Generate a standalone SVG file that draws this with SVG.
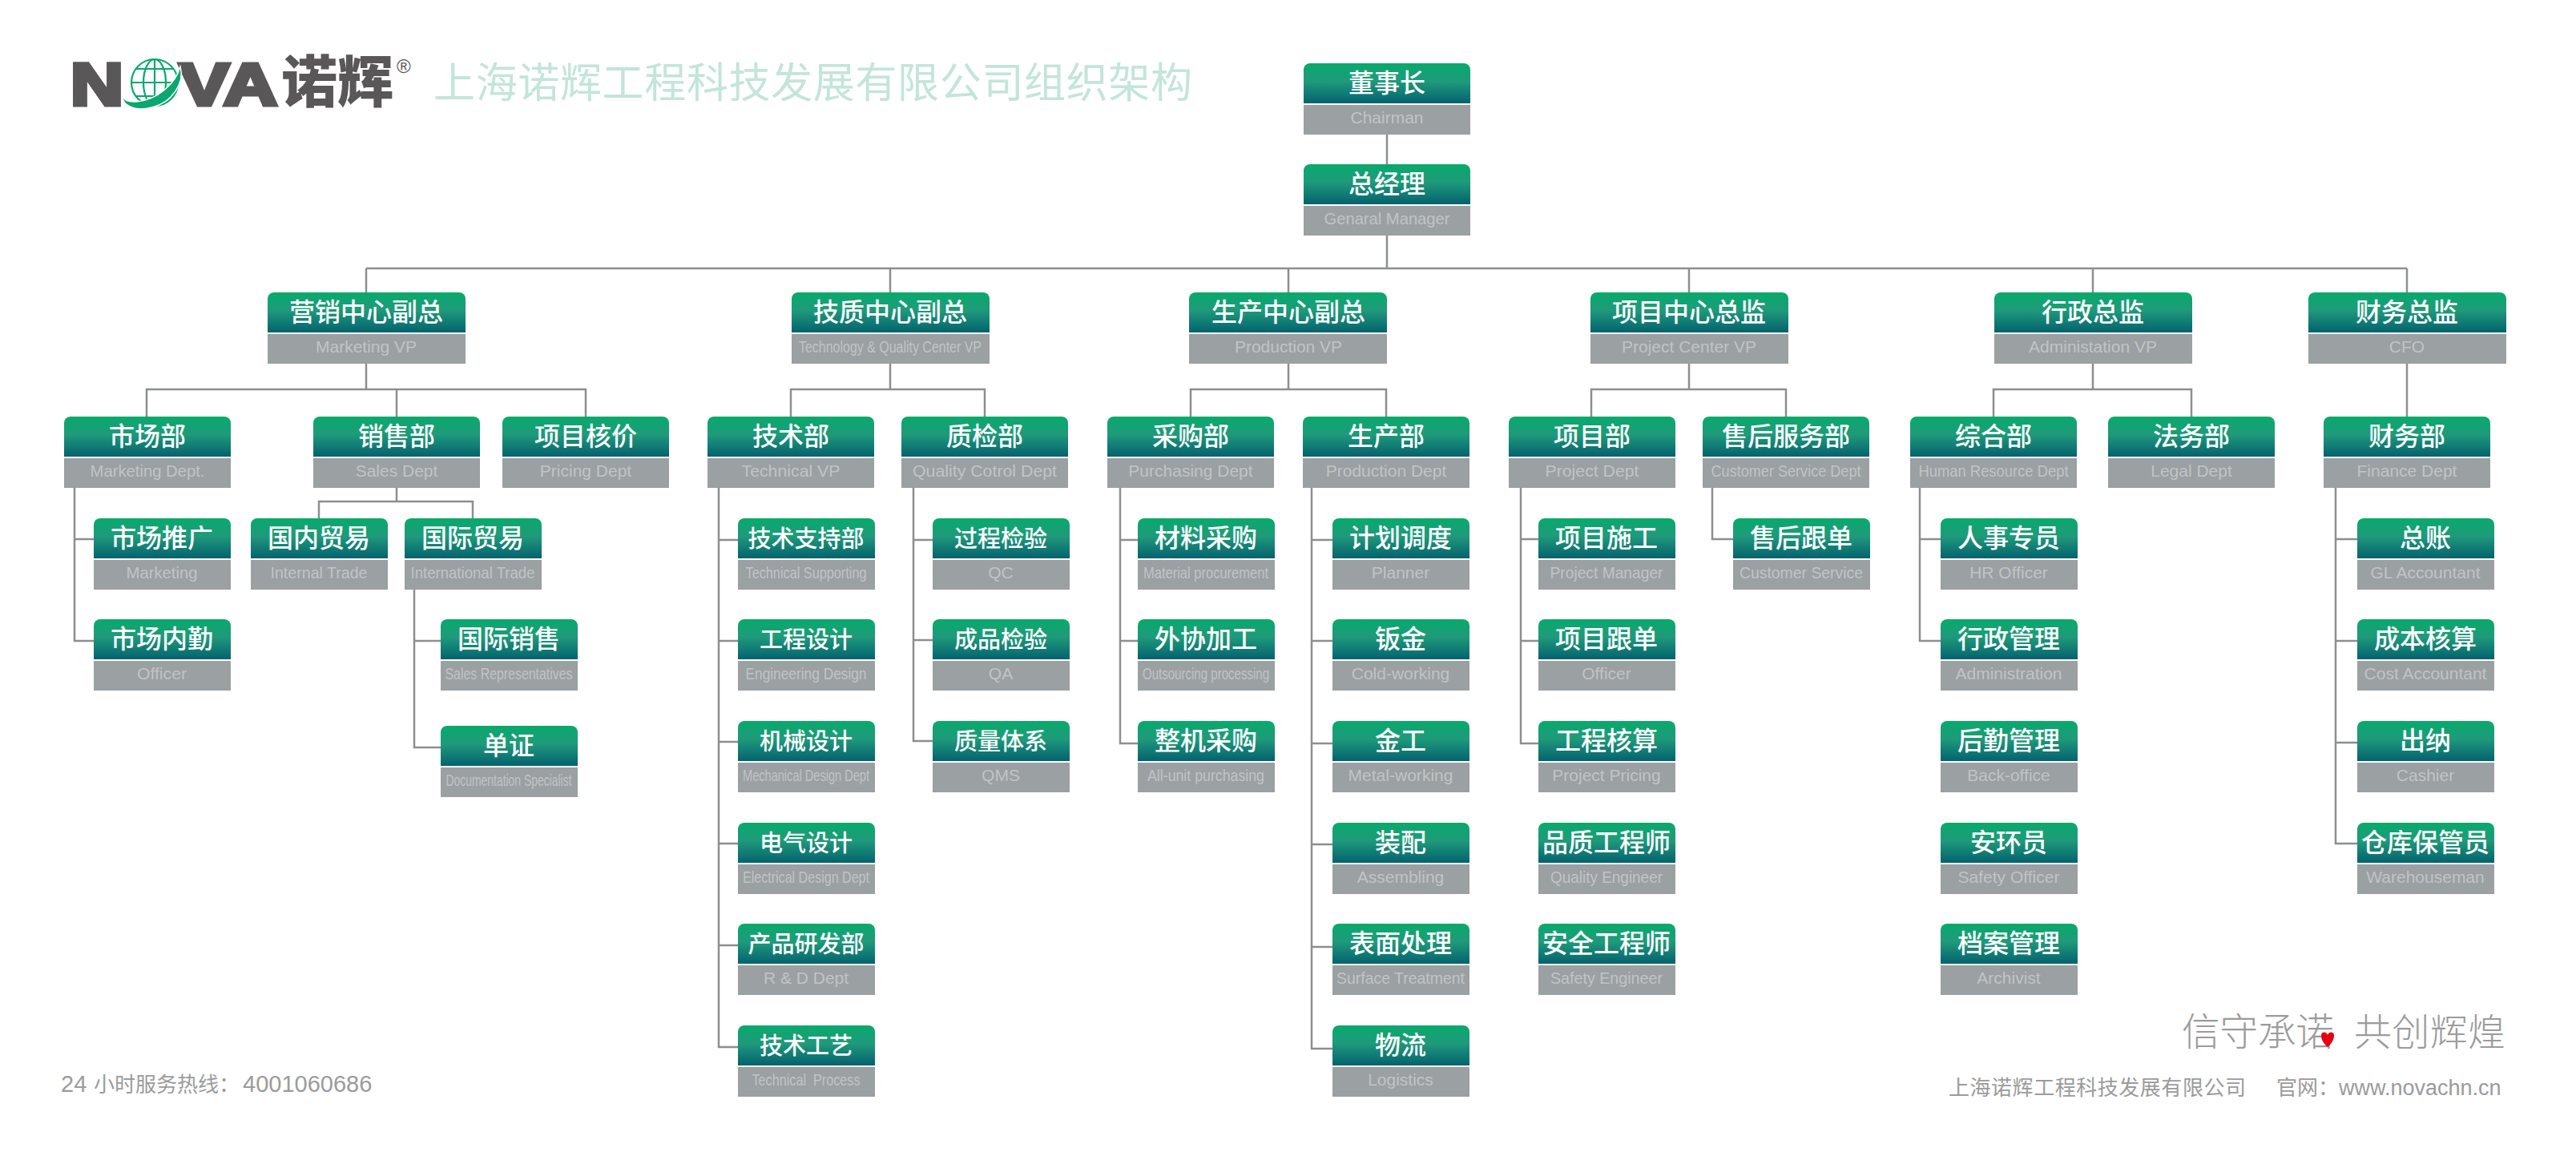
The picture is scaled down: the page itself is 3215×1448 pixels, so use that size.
<svg xmlns="http://www.w3.org/2000/svg" xmlns:xlink="http://www.w3.org/1999/xlink" width="3215" height="1448" viewBox="0 0 3215 1448">
<style>
.c{font-family:"Liberation Sans","Noto Sans CJK SC",sans-serif;font-weight:500;font-size:32px;fill:#fff;text-anchor:middle;transform:translateY(-1.5px)}
.s{font-size:29px}
.e{font-family:"Liberation Sans","Noto Sans CJK SC",sans-serif;font-size:21px;fill:#c0c4c6;text-anchor:middle;white-space:pre;transform:translateY(-1px)}
.f{font-family:"Liberation Sans","Noto Sans CJK SC",sans-serif;font-size:26px;fill:#9b9b9b}
.g{fill:#9ba0a2}
.k{fill:none;stroke:#8c8e90;stroke-width:2.5}
.lg{fill:none;stroke:#0aa86e;stroke-width:2.2}
.nv{font-family:"Liberation Sans",sans-serif;font-weight:700;font-size:74px;fill:#595757;stroke:#595757;stroke-width:5;stroke-linejoin:miter}
</style>
<defs>
<linearGradient id="gr" x1="0" y1="0" x2="0" y2="1"><stop offset="0" stop-color="#08aa6c"/><stop offset="0.45" stop-color="#1f9a7a"/><stop offset="1" stop-color="#04626f"/></linearGradient>
<g id="n208"><path d="M0,50V8a8,8 0 0 1 8,-8H200a8,8 0 0 1 8,8V50Z" fill="url(#gr)"/><rect class="g" y="52" width="208" height="37"/></g>
<g id="n247"><path d="M0,50V8a8,8 0 0 1 8,-8H239a8,8 0 0 1 8,8V50Z" fill="url(#gr)"/><rect class="g" y="52" width="247" height="37"/></g>
<g id="n171"><path d="M0,50V8a8,8 0 0 1 8,-8H163a8,8 0 0 1 8,8V50Z" fill="url(#gr)"/><rect class="g" y="52" width="171" height="37"/></g>
</defs>
<rect width="3215" height="1448" fill="#fff"/>
<g id="logo">
<text class="nv" x="88" y="131" textLength="66" lengthAdjust="spacingAndGlyphs">N</text>
<text class="nv" x="224" y="131" textLength="122" lengthAdjust="spacingAndGlyphs">VA</text>
<circle class="lg" cx="193" cy="103" r="29"/>
<ellipse class="lg" cx="193" cy="103" rx="14" ry="29"/>
<path class="lg" d="M193,74V132M165,103H222M170,86H216M170,120H216"/>
<path d="M162,106C150,120 152,128 170,127C196,125 219,105 225,83C231,104 214,128 190,134C178,137 168,136 162,133C151,128 150,118 162,106Z" fill="#0aa86e" stroke="#fff" stroke-width="1.5"/>
<text x="351" y="128" font-family="Noto Sans CJK SC" font-weight="900" font-size="70" fill="#595757">诺辉</text>
<text x="495" y="91" font-family="Liberation Sans" font-size="24" fill="#595757">®</text>
</g>
<text id="title" x="541" y="122" font-family="Noto Sans CJK SC" font-weight="400" font-size="52" fill="#c3e5da" textLength="947">上海诺辉工程科技发展有限公司组织架构</text>
<g id="connectors" class="k">
<path class="k" d="M1731,168V205M1731,294V335M457,335H3004M457,335V365M1111,335V365M1608,335V365M2108,335V365M2612,335V365M3004,335V365"/>
<path class="k" d="M457,454V486M183,520V486H731V520M495,486V520"/>
<path class="k" d="M495,609V626M398,647V626H590V647"/>
<path class="k" d="M93,609V800H117M93,673H117"/>
<path class="k" d="M517,736V933H550M517,800H550"/>
<path class="k" d="M1111,454V486M987,520V486H1229V520"/>
<path class="k" d="M897,609V1307H921M897,674H921M897,800H921M897,926H921M897,1053H921M897,1180H921"/>
<path class="k" d="M1140,609V925H1164M1140,674H1164M1140,799H1164"/>
<path class="k" d="M1608,454V486M1486,520V486H1730V520"/>
<path class="k" d="M1398,609V928H1420M1398,674H1420M1398,800H1420"/>
<path class="k" d="M1637,609V1309H1663M1637,674H1663M1637,800H1663M1637,928H1663M1637,1054H1663M1637,1182H1663"/>
<path class="k" d="M2108,454V486M1986,520V486H2229V520"/>
<path class="k" d="M1898,609V928H1920M1898,673H1920M1898,800H1920"/>
<path class="k" d="M2137,609V673H2163"/>
<path class="k" d="M2612,454V486M2488,520V486H2735V520"/>
<path class="k" d="M2396,609V800H2422M2396,673H2422"/>
<path class="k" d="M3004,454V520"/>
<path class="k" d="M2915,609V1053H2942M2915,673H2942M2915,800H2942M2915,927H2942"/>
</g>
<g id="n1"><use xlink:href="#n208" x="1627" y="79"/><text class="c" x="1731" y="116">董事长</text><text class="e" x="1731" y="155">Chairman</text></g>
<g id="n2"><use xlink:href="#n208" x="1627" y="205"/><text class="c" x="1731" y="242">总经理</text><text class="e" x="1731" y="281" textLength="157" lengthAdjust="spacingAndGlyphs">Genaral Manager</text></g>
<g id="vp1"><use xlink:href="#n247" x="334" y="365"/><text class="c" x="457" y="402">营销中心副总</text><text class="e" x="457" y="441">Marketing VP</text></g>
<g id="vp2"><use xlink:href="#n247" x="988" y="365"/><text class="c" x="1111" y="402">技质中心副总</text><text class="e" x="1111" y="441" textLength="228" lengthAdjust="spacingAndGlyphs">Technology &amp; Quality Center VP</text></g>
<g id="vp3"><use xlink:href="#n247" x="1484" y="365"/><text class="c" x="1608" y="402">生产中心副总</text><text class="e" x="1608" y="441">Production VP</text></g>
<g id="vp4"><use xlink:href="#n247" x="1985" y="365"/><text class="c" x="2108" y="402">项目中心总监</text><text class="e" x="2108" y="441">Project Center VP</text></g>
<g id="vp5"><use xlink:href="#n247" x="2489" y="365"/><text class="c" x="2612" y="402">行政总监</text><text class="e" x="2612" y="441">Administation VP</text></g>
<g id="vp6"><use xlink:href="#n247" x="2881" y="365"/><text class="c" x="3004" y="402">财务总监</text><text class="e" x="3004" y="441">CFO</text></g>

<g id="d1"><use xlink:href="#n208" x="80" y="520"/><text class="c" x="184" y="557">市场部</text><text class="e" x="184" y="596" textLength="143" lengthAdjust="spacingAndGlyphs">Marketing Dept.</text></g>
<g id="d2"><use xlink:href="#n208" x="391" y="520"/><text class="c" x="495" y="557">销售部</text><text class="e" x="495" y="596">Sales Dept</text></g>
<g id="d3"><use xlink:href="#n208" x="627" y="520"/><text class="c" x="731" y="557">项目核价</text><text class="e" x="731" y="596">Pricing Dept</text></g>
<g id="d4"><use xlink:href="#n208" x="883" y="520"/><text class="c" x="987" y="557">技术部</text><text class="e" x="987" y="596" textLength="123" lengthAdjust="spacingAndGlyphs">Technical VP</text></g>
<g id="d5"><use xlink:href="#n208" x="1125" y="520"/><text class="c" x="1229" y="557">质检部</text><text class="e" x="1229" y="596" textLength="180" lengthAdjust="spacingAndGlyphs">Quality Cotrol Dept</text></g>
<g id="d6"><use xlink:href="#n208" x="1382" y="520"/><text class="c" x="1486" y="557">采购部</text><text class="e" x="1486" y="596">Purchasing Dept</text></g>
<g id="d7"><use xlink:href="#n208" x="1626" y="520"/><text class="c" x="1730" y="557">生产部</text><text class="e" x="1730" y="596">Production Dept</text></g>
<g id="d8"><use xlink:href="#n208" x="1883" y="520"/><text class="c" x="1987" y="557">项目部</text><text class="e" x="1987" y="596" textLength="117" lengthAdjust="spacingAndGlyphs">Project Dept</text></g>
<g id="d9"><use xlink:href="#n208" x="2125" y="520"/><text class="c" x="2229" y="557">售后服务部</text><text class="e" x="2229" y="596" textLength="187" lengthAdjust="spacingAndGlyphs">Customer Service Dept</text></g>
<g id="d10"><use xlink:href="#n208" x="2384" y="520"/><text class="c" x="2488" y="557">综合部</text><text class="e" x="2488" y="596" textLength="187" lengthAdjust="spacingAndGlyphs">Human Resource Dept</text></g>
<g id="d11"><use xlink:href="#n208" x="2631" y="520"/><text class="c" x="2735" y="557">法务部</text><text class="e" x="2735" y="596">Legal Dept</text></g>
<g id="d12"><use xlink:href="#n208" x="2900" y="520"/><text class="c" x="3004" y="557">财务部</text><text class="e" x="3004" y="596">Finance Dept</text></g>

<g id="m1"><use xlink:href="#n171" x="117" y="647"/><text class="c" x="202" y="684">市场推广</text><text class="e" x="202" y="723" textLength="89" lengthAdjust="spacingAndGlyphs">Marketing</text></g>
<g id="m2"><use xlink:href="#n171" x="117" y="773"/><text class="c" x="202" y="810">市场内勤</text><text class="e" x="202" y="849" textLength="62" lengthAdjust="spacingAndGlyphs">Officer</text></g>
<g id="t1"><use xlink:href="#n171" x="313" y="647"/><text class="c" x="398" y="684">国内贸易</text><text class="e" x="398" y="723" textLength="121" lengthAdjust="spacingAndGlyphs">Internal Trade</text></g>
<g id="t2"><use xlink:href="#n171" x="505" y="647"/><text class="c" x="590" y="684">国际贸易</text><text class="e" x="590" y="723" textLength="155" lengthAdjust="spacingAndGlyphs">International Trade</text></g>
<g id="t3"><use xlink:href="#n171" x="550" y="773"/><text class="c" x="635" y="810">国际销售</text><text class="e" x="635" y="849" textLength="159" lengthAdjust="spacingAndGlyphs">Sales Representatives</text></g>
<g id="t4"><use xlink:href="#n171" x="550" y="906"/><text class="c" x="635" y="943">单证</text><text class="e" x="635" y="982" textLength="157" lengthAdjust="spacingAndGlyphs">Documentation Specialist</text></g>

<g id="a1"><use xlink:href="#n171" x="921" y="647"/><text class="c s" x="1006" y="684">技术支持部</text><text class="e" x="1006" y="723" textLength="151" lengthAdjust="spacingAndGlyphs">Technical Supporting</text></g>
<g id="a2"><use xlink:href="#n171" x="921" y="773"/><text class="c s" x="1006" y="810">工程设计</text><text class="e" x="1006" y="849" textLength="151" lengthAdjust="spacingAndGlyphs">Engineering Design</text></g>
<g id="a3"><use xlink:href="#n171" x="921" y="900"/><text class="c s" x="1006" y="937">机械设计</text><text class="e" x="1006" y="976" textLength="158" lengthAdjust="spacingAndGlyphs">Mechanical Design Dept</text></g>
<g id="a4"><use xlink:href="#n171" x="921" y="1027"/><text class="c s" x="1006" y="1064">电气设计</text><text class="e" x="1006" y="1103" textLength="158" lengthAdjust="spacingAndGlyphs">Electrical Design Dept</text></g>
<g id="a5"><use xlink:href="#n171" x="921" y="1153"/><text class="c s" x="1006" y="1190">产品研发部</text><text class="e" x="1006" y="1229">R &amp; D Dept</text></g>
<g id="a6"><use xlink:href="#n171" x="921" y="1280"/><text class="c s" x="1006" y="1317">技术工艺</text><text class="e" x="1006" y="1356" textLength="135" lengthAdjust="spacingAndGlyphs">Technical  Process</text></g>

<g id="q1"><use xlink:href="#n171" x="1164" y="647"/><text class="c s" x="1249" y="684">过程检验</text><text class="e" x="1249" y="723">QC</text></g>
<g id="q2"><use xlink:href="#n171" x="1164" y="773"/><text class="c s" x="1249" y="810">成品检验</text><text class="e" x="1249" y="849">QA</text></g>
<g id="q3"><use xlink:href="#n171" x="1164" y="900"/><text class="c s" x="1249" y="937">质量体系</text><text class="e" x="1249" y="976">QMS</text></g>

<g id="b1"><use xlink:href="#n171" x="1420" y="647"/><text class="c" x="1505" y="684">材料采购</text><text class="e" x="1505" y="723" textLength="156" lengthAdjust="spacingAndGlyphs">Material procurement</text></g>
<g id="b2"><use xlink:href="#n171" x="1420" y="773"/><text class="c" x="1505" y="810">外协加工</text><text class="e" x="1505" y="849" textLength="158" lengthAdjust="spacingAndGlyphs">Outsourcing processing</text></g>
<g id="b3"><use xlink:href="#n171" x="1420" y="900"/><text class="c" x="1505" y="937">整机采购</text><text class="e" x="1505" y="976" textLength="146" lengthAdjust="spacingAndGlyphs">All-unit purchasing</text></g>

<g id="p1"><use xlink:href="#n171" x="1663" y="647"/><text class="c" x="1748" y="684">计划调度</text><text class="e" x="1748" y="723">Planner</text></g>
<g id="p2"><use xlink:href="#n171" x="1663" y="773"/><text class="c" x="1748" y="810">钣金</text><text class="e" x="1748" y="849">Cold-working</text></g>
<g id="p3"><use xlink:href="#n171" x="1663" y="900"/><text class="c" x="1748" y="937">金工</text><text class="e" x="1748" y="976" textLength="131" lengthAdjust="spacingAndGlyphs">Metal-working</text></g>
<g id="p4"><use xlink:href="#n171" x="1663" y="1027"/><text class="c" x="1748" y="1064">装配</text><text class="e" x="1748" y="1103">Assembling</text></g>
<g id="p5"><use xlink:href="#n171" x="1663" y="1153"/><text class="c" x="1748" y="1190">表面处理</text><text class="e" x="1748" y="1229" textLength="160" lengthAdjust="spacingAndGlyphs">Surface Treatment</text></g>
<g id="p6"><use xlink:href="#n171" x="1663" y="1280"/><text class="c" x="1748" y="1317">物流</text><text class="e" x="1748" y="1356">Logistics</text></g>

<g id="j1"><use xlink:href="#n171" x="1920" y="647"/><text class="c" x="2005" y="684">项目施工</text><text class="e" x="2005" y="723" textLength="141" lengthAdjust="spacingAndGlyphs">Project Manager</text></g>
<g id="j2"><use xlink:href="#n171" x="1920" y="773"/><text class="c" x="2005" y="810">项目跟单</text><text class="e" x="2005" y="849">Officer</text></g>
<g id="j3"><use xlink:href="#n171" x="1920" y="900"/><text class="c" x="2005" y="937">工程核算</text><text class="e" x="2005" y="976">Project Pricing</text></g>
<g id="j4"><use xlink:href="#n171" x="1920" y="1027"/><text class="c" x="2005" y="1064">品质工程师</text><text class="e" x="2005" y="1103" textLength="140" lengthAdjust="spacingAndGlyphs">Quality Engineer</text></g>
<g id="j5"><use xlink:href="#n171" x="1920" y="1153"/><text class="c" x="2005" y="1190">安全工程师</text><text class="e" x="2005" y="1229" textLength="140" lengthAdjust="spacingAndGlyphs">Safety Engineer</text></g>
<g id="h1"><use xlink:href="#n171" x="2163" y="647"/><text class="c" x="2248" y="684">售后跟单</text><text class="e" x="2248" y="723" textLength="154" lengthAdjust="spacingAndGlyphs">Customer Service</text></g>

<g id="r1"><use xlink:href="#n171" x="2422" y="647"/><text class="c" x="2507" y="684">人事专员</text><text class="e" x="2507" y="723">HR Officer</text></g>
<g id="r2"><use xlink:href="#n171" x="2422" y="773"/><text class="c" x="2507" y="810">行政管理</text><text class="e" x="2507" y="849">Administration</text></g>
<g id="r3"><use xlink:href="#n171" x="2422" y="900"/><text class="c" x="2507" y="937">后勤管理</text><text class="e" x="2507" y="976">Back-office</text></g>
<g id="r4"><use xlink:href="#n171" x="2422" y="1027"/><text class="c" x="2507" y="1064">安环员</text><text class="e" x="2507" y="1103">Safety Officer</text></g>
<g id="r5"><use xlink:href="#n171" x="2422" y="1153"/><text class="c" x="2507" y="1190">档案管理</text><text class="e" x="2507" y="1229">Archivist</text></g>

<g id="f1"><use xlink:href="#n171" x="2942" y="647"/><text class="c" x="3027" y="684">总账</text><text class="e" x="3027" y="723">GL Accountant</text></g>
<g id="f2"><use xlink:href="#n171" x="2942" y="773"/><text class="c" x="3027" y="810">成本核算</text><text class="e" x="3027" y="849">Cost Accountant</text></g>
<g id="f3"><use xlink:href="#n171" x="2942" y="900"/><text class="c" x="3027" y="937">出纳</text><text class="e" x="3027" y="976">Cashier</text></g>
<g id="f4"><use xlink:href="#n171" x="2942" y="1027"/><text class="c" x="3027" y="1064">仓库保管员</text><text class="e" x="3027" y="1103">Warehouseman</text></g>

<text class="f" y="1363"><tspan x="76" font-size="29">24</tspan><tspan x="117">小时服务热线：</tspan><tspan x="303" font-size="29">4001060686</tspan></text>
<text class="f" x="2432" y="1367" textLength="371">上海诺辉工程科技发展有限公司</text>
<text class="f" y="1367"><tspan x="2841">官网：</tspan><tspan x="2919" font-size="27">www.novachn.cn</tspan></text>
<text x="2723" y="1305" font-family="Noto Sans CJK SC" font-weight="300" font-size="48" fill="#9b9b9b" textLength="190">信守承诺</text>
<text x="2938" y="1305" font-family="Noto Sans CJK SC" font-weight="300" font-size="47" fill="#9b9b9b" textLength="189">共创辉煌</text>
<path id="heart" d="M2905,1307C2897,1300 2897,1294 2897,1292C2898,1287 2904,1288 2905,1292C2906,1288 2912,1287 2913,1292C2913,1294 2913,1300 2905,1307Z" fill="#e60012"/>
</svg>
